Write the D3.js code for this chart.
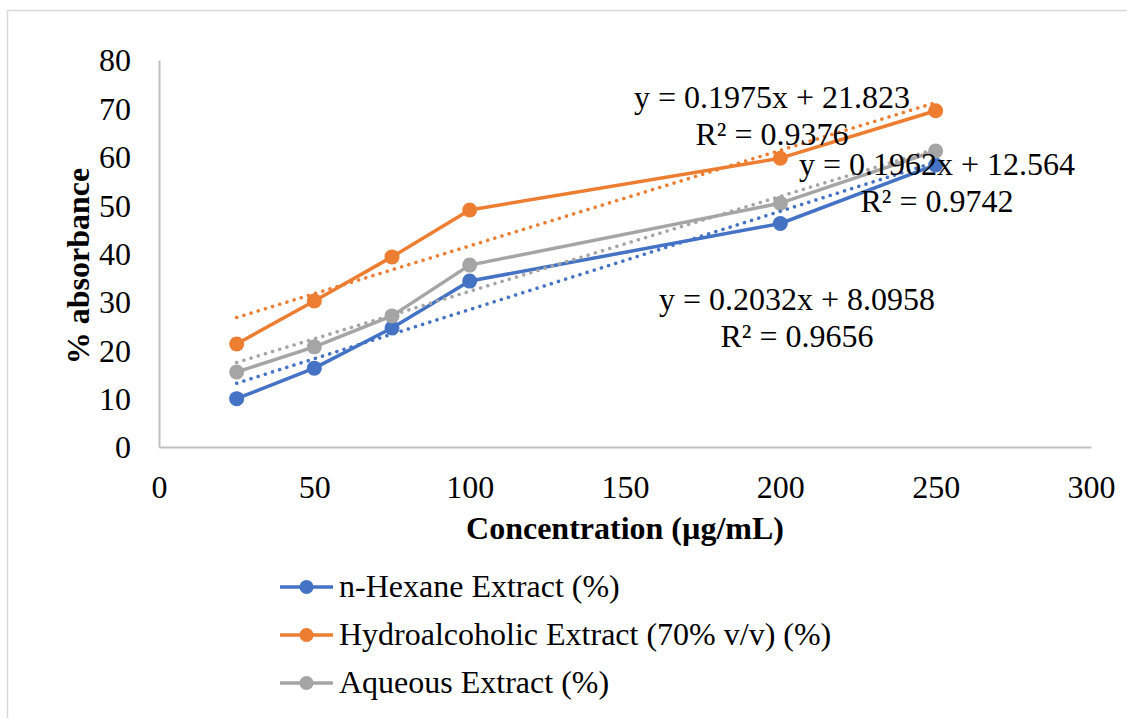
<!DOCTYPE html>
<html>
<head>
<meta charset="utf-8">
<script src="https://cdn.jsdelivr.net/npm/d3@7"></script>
<style>
  body { margin: 0; background: #ffffff; }
  text { font-family: "Liberation Serif", "Times New Roman", serif; fill: #000000; }
</style>
</head>
<body>
<svg id="chart" width="1127" height="718"></svg>
<script>
// -- Data -- //
const concentrations = [25, 50, 75, 100, 200, 250];
const hexaneValues = [10.0, 16.3, 24.6, 34.3, 46.2, 58.3];
const hydroValues = [21.3, 30.2, 39.3, 49.0, 59.7, 69.5];
const aqueousValues = [15.5, 20.7, 27.1, 37.6, 50.4, 61.2];
const seriesNames = ["n-Hexane Extract (%)", "Hydroalcoholic Extract (70% v/v) (%)", "Aqueous Extract (%)"];
const trendSlopes = [0.2032, 0.1975, 0.1962];
const trendIntercepts = [8.0958, 21.823, 12.564];
const trendR2 = ["0.9656", "0.9376", "0.9742"];
const xTicks = [0, 50, 100, 150, 200, 250, 300];
const yTicks = [0, 10, 20, 30, 40, 50, 60, 70, 80];

// -- Layout / style -- //
const colours = ["#4472c4", "#ed7d31", "#a5a5a5"];
const margin = { left: 159, right: 1091, top: 60, bottom: 447 };
const fontSize = 32;
// equation label centres (pixels) for each series
const labelPos = [
  { x: 797, y: 310 },
  { x: 772, y: 108 },
  { x: 937, y: 175 },
];

const series = [hexaneValues, hydroValues, aqueousValues].map((vals, i) => ({
  name: seriesNames[i],
  colour: colours[i],
  points: concentrations.map((c, j) => ({ x: c, y: vals[j] })),
  slope: trendSlopes[i],
  intercept: trendIntercepts[i],
  r2: trendR2[i],
  label: labelPos[i],
}));

const svg = d3.select("#chart");

// outer chart border
svg.append("rect")
  .attr("x", 7.5).attr("y", 10.5)
  .attr("width", 1140).attr("height", 720)
  .attr("fill", "none")
  .attr("stroke", "#d9d9d9")
  .attr("stroke-width", 1.5);

const x = d3.scaleLinear().domain([0, 300]).range([margin.left, margin.right]);
const y = d3.scaleLinear().domain([0, 80]).range([margin.bottom, margin.top]);

// Axes
const xAxis = svg.append("g")
  .attr("transform", `translate(0, ${margin.bottom})`)
  .call(d3.axisBottom(x).tickValues(xTicks).tickSize(0).tickPadding(28));
const yAxis = svg.append("g")
  .attr("transform", `translate(${margin.left}, 0)`)
  .call(d3.axisLeft(y).tickValues(yTicks).tickSize(0).tickPadding(28));
[xAxis, yAxis].forEach(a => {
  a.select(".domain").attr("stroke", "#bfbfbf").attr("stroke-width", 2);
  a.selectAll("text")
    .attr("font-family", "Liberation Serif, Times New Roman, serif")
    .attr("font-size", fontSize)
    .attr("fill", "#000");
});
yAxis.selectAll("text").attr("dy", "0.34em");

// Axis titles
svg.append("text")
  .attr("x", (margin.left + margin.right) / 2)
  .attr("y", 539)
  .attr("text-anchor", "middle")
  .attr("font-size", fontSize)
  .attr("font-weight", "bold")
  .text("Concentration (µg/mL)");
svg.append("text")
  .attr("transform", "translate(89, 266) rotate(-90)")
  .attr("text-anchor", "middle")
  .attr("font-size", fontSize)
  .attr("font-weight", "bold")
  .text("% absorbance");

// Series lines and markers
const line = d3.line().x(d => x(d.x)).y(d => y(d.y));
const plot = svg.append("g");
series.forEach(s => {
  plot.append("path")
    .datum(s.points)
    .attr("d", line)
    .attr("fill", "none")
    .attr("stroke", s.colour)
    .attr("stroke-width", 3.5)
    .attr("stroke-linejoin", "round");
  plot.append("g").selectAll("circle")
    .data(s.points)
    .join("circle")
    .attr("cx", d => x(d.x))
    .attr("cy", d => y(d.y))
    .attr("r", 7.5)
    .attr("fill", s.colour);
});

// Linear trendlines (dotted) from the fitted equations
series.forEach(s => {
  const x0 = d3.min(concentrations), x1 = d3.max(concentrations);
  plot.append("line")
    .attr("x1", x(x0)).attr("y1", y(s.slope * x0 + s.intercept))
    .attr("x2", x(x1)).attr("y2", y(s.slope * x1 + s.intercept))
    .attr("stroke", s.colour)
    .attr("stroke-width", 3.5)
    .attr("stroke-linecap", "round")
    .attr("stroke-dasharray", "0.1 7.4");
});

// Equation labels
series.forEach(s => {
  const g = svg.append("g").attr("text-anchor", "middle").attr("font-size", fontSize);
  g.append("text")
    .attr("x", s.label.x).attr("y", s.label.y)
    .text(`y = ${s.slope}x + ${s.intercept}`);
  g.append("text")
    .attr("x", s.label.x).attr("y", s.label.y + 37)
    .text(`R² = ${s.r2}`);
});

// Legend
const legend = svg.append("g");
const legendRows = [587, 635, 683];
series.forEach((s, i) => {
  const row = legend.append("g").attr("transform", `translate(0, ${legendRows[i]})`);
  row.append("line")
    .attr("x1", 280).attr("x2", 333)
    .attr("stroke", s.colour).attr("stroke-width", 3.5);
  row.append("circle")
    .attr("cx", 306.5).attr("r", 7)
    .attr("fill", s.colour);
  row.append("text")
    .attr("x", 339).attr("y", 10)
    .attr("font-size", fontSize)
    .text(s.name);
});
</script>
</body>
</html>
